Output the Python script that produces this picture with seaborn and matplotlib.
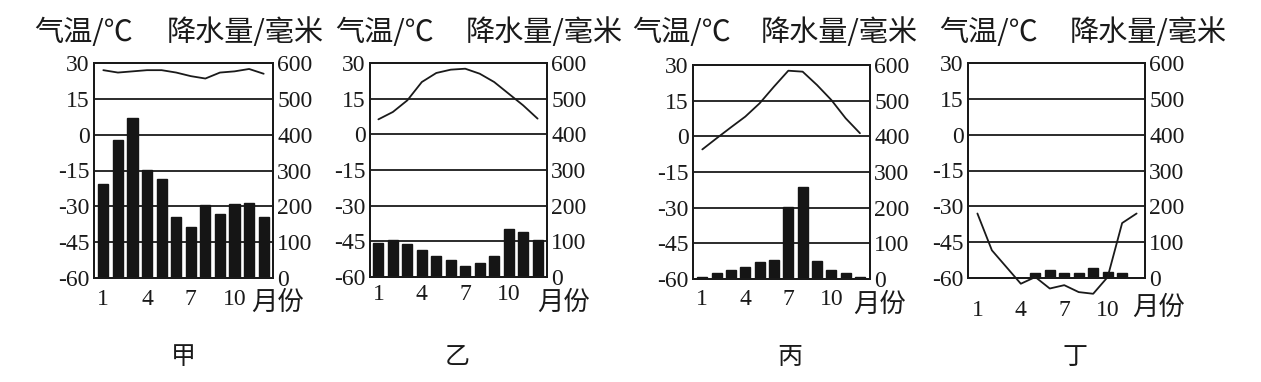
import numpy as np
import pandas as pd
import matplotlib
matplotlib.use("Agg")
import matplotlib.pyplot as plt
import seaborn as sns

sns.set_style("white")
plt.rcParams['font.family'] = ['Liberation Serif', 'Noto Sans CJK SC', 'DejaVu Sans']
plt.rcParams['axes.unicode_minus'] = False

months = list(range(1, 13))
tick_months = [1, 4, 7, 10]
temp_ticks = [-60, -45, -30, -15, 0, 15, 30]
precip_ticks = [0, 100, 200, 300, 400, 500, 600]
panel_names = ["甲", "乙", "丙", "丁"]
temp_label = "气温/℃"
precip_label = "降水量/毫米"
month_label = "月份"

temp_jia = [27, 26, 26.5, 27, 27, 26, 24.5, 23.5, 26, 26.5, 27.5, 25.5]
precip_jia = [263, 384, 447, 302, 275, 170, 142, 204, 178, 207, 209, 170]

temp_yi = [6.3, 9.4, 14.3, 22, 25.8, 27.2, 27.6, 25.5, 22, 17.1, 12.2, 6.6]
precip_yi = [96, 103, 93, 77, 59, 49, 31, 40, 59, 135, 125, 105]

temp_bing = [-5.5, -0.8, 3.8, 8.3, 13.9, 20.9, 27.6, 27.2, 21.6, 15.3, 7.6, 1.3]
precip_bing = [5, 16, 24, 33, 47, 53, 201, 258, 50, 24, 16, 7]

temp_ding = [-33, -48.4, -55.4, -62.4, -59.6, -64.4, -63, -65.9, -66.6, -59.6, -37, -33]
precip_ding = [0, 0, 0, 0, 15, 21, 13, 13, 29, 16, 13, 0]

temps = [temp_jia, temp_yi, temp_bing, temp_ding]
precips = [precip_jia, precip_yi, precip_bing, precip_ding]

W, H = 1261, 382
fig = plt.figure(figsize=(W / 100, H / 100), dpi=100)
fig.patch.set_facecolor("white")

# pixel boxes: left, right, top, bottom
boxes = [(94, 273, 63, 278), (370, 547, 63, 277), (693, 870, 65, 279), (968, 1145, 63, 278)]
xlims = [(0.36, 12.64), (0.42, 12.65), (0.35, 12.70), (0.35, 12.58)]
title_pos = [(84, 245), (385, 544), (682, 839), (989, 1148)]
name_x = [183, 457, 790, 1075]
month_lab = [(0.88, -0.112), (0.943, -0.12), (0.904, -0.118), (0.927, -0.135)]
xt_pad = [8, 5, 7, 16]

for i in range(4):
    l, r, t, b = boxes[i]
    ax = fig.add_axes([l / W, 1 - b / H, (r - l) / W, (b - t) / H])
    ax2 = ax.twinx()
    df = pd.DataFrame({"month": months, "temp": temps[i], "precip": precips[i]})

    sns.barplot(data=df, x="month", y="precip", native_scale=True, width=0.69,
                color="#151515", saturation=1, edgecolor="#151515", ax=ax2, zorder=2)
    ax2.set_ylim(0, 600)
    ax2.set_yticks(precip_ticks)
    ax2.set_ylabel("")

    ax.set_zorder(ax2.get_zorder() + 1)
    ax.patch.set_visible(False)
    sns.lineplot(data=df, x="month", y="temp", color="#1a1a1a", linewidth=1.3, ax=ax,
                 clip_on=False, zorder=5)
    ax.set_ylim(-60, 30)
    ax.set_yticks(temp_ticks)
    ax.set_xlim(*xlims[i])
    ax2.set_xlim(*xlims[i])
    ax.set_xticks(tick_months)
    ax.set_xticklabels([str(m) for m in tick_months])
    ax.set_xlabel("")
    ax.set_ylabel("")
    for y in temp_ticks[1:-1]:
        ax2.axhline((y + 60) / 90 * 600, color="#1a1a1a", linewidth=1.3, zorder=1)

    for a in (ax, ax2):
        for s in a.spines.values():
            s.set_color("#1a1a1a")
            s.set_linewidth(1.4)
        a.tick_params(length=0, labelsize=17, colors="#1a1a1a")
    ax.tick_params(axis='y', pad=3)
    ax2.tick_params(axis='y', pad=3)
    ax.tick_params(axis='x', pad=xt_pad[i])
    ax2.tick_params(axis='x', bottom=False, labelbottom=False)

    mx, my = month_lab[i]
    ax.text(mx, my, month_label, transform=ax.transAxes, ha='left', va='center',
            fontsize=19, family=['Noto Sans CJK SC'], color="#1a1a1a")

    tx1, tx2 = title_pos[i]
    fig.text(tx1 / W, 1 - 33 / H, temp_label, ha='center', va='center', fontsize=21,
             family=['Noto Sans CJK SC', 'DejaVu Sans'], color="#1a1a1a")
    fig.text(tx2 / W, 1 - 33 / H, precip_label, ha='center', va='center', fontsize=21,
             family=['Noto Sans CJK SC', 'DejaVu Sans'], color="#1a1a1a")
    fig.text(name_x[i] / W, 1 - 357 / H, panel_names[i], ha='center', va='center',
             fontsize=18, family=['Noto Sans CJK SC'], color="#1a1a1a")

fig.savefig("out.png", dpi=100, facecolor="white")
